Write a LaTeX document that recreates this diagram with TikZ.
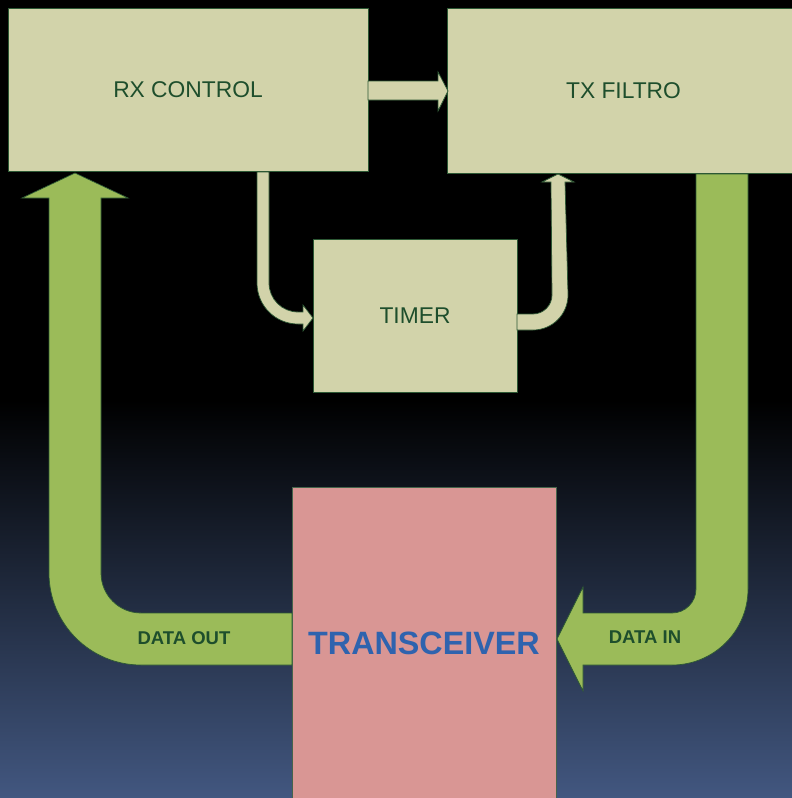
\documentclass[tikz,border=0pt]{standalone}
\usepackage{fontspec}
\setmainfont{Liberation Sans}
\definecolor{bgblue}{RGB}{66,87,128}
\definecolor{boxfill}{RGB}{210,211,170}
\definecolor{edgegreen}{RGB}{44,88,52}
\definecolor{txtgreen}{RGB}{30,78,44}
\definecolor{biggreen}{RGB}{155,187,89}
\definecolor{pinkfill}{RGB}{217,150,148}
\definecolor{txtblue}{RGB}{47,99,174}
\tikzset{
  blockbox/.style={draw=edgegreen, line width=0.8pt, fill=boxfill, rectangle, inner sep=0pt,
    text=txtgreen, font=\fontsize{22.8}{26}\selectfont},
  thinarrow/.style={draw=edgegreen, line width=0.7pt, fill=boxfill},
  bigarrow/.style={draw=edgegreen, line width=0.7pt, fill=biggreen},
  datalabel/.style={text=txtgreen, font=\bfseries\fontsize{18.5}{21}\selectfont, inner sep=0pt}
}
\begin{document}
\begin{tikzpicture}[x=1pt,y=-1pt]
\useasboundingbox (0,0) rectangle (792,798);
% background
\fill[black] (0,0) rectangle (792,401);
\shade[top color=black, bottom color=bgblue] (0,400) rectangle (792,798);
% boxes
\node[blockbox, minimum width=360, minimum height=163] (rx) at (188,89.5) {RX CONTROL};
\node[blockbox, minimum width=353, minimum height=165] (tx) at (623.5,90.5) {TX FILTRO};
\node[blockbox, minimum width=204, minimum height=153] (timer) at (415,315.5) {TIMER};
\node[draw=edgegreen!70!gray, line width=0.6pt, fill=pinkfill, rectangle, inner sep=0pt,
  minimum width=264, minimum height=313, text=txtblue,
  font=\bfseries\fontsize{32.3}{36}\selectfont] (trx) at (424,643.5) {TRANSCEIVER};
% RX -> TX arrow
\draw[thinarrow] (368,81) -- (438,81) -- (438,72) -- (448,91) -- (438,111) -- (438,100) -- (368,100) -- cycle;
% RX -> TIMER arrow
\draw[thinarrow] (257,172) -- (257,283) arc[start angle=180, end angle=90, radius=41]
  -- (303,324) -- (303,331) -- (313,318) -- (303,305) -- (303,312) -- (298,312)
  arc[start angle=90, end angle=180, radius=29] -- (269,172) -- cycle;
% TIMER -> TX arrow
\draw[thinarrow] (517,314) -- (533,314) arc[start angle=90, end angle=0, radius=19]
  -- (551,182) -- (542,182) -- (558,174) -- (574,182) -- (565,182) -- (568,295)
  arc[start angle=0, end angle=90, radius=35] -- (517,330) -- cycle;
% DATA OUT arrow
\draw[bigarrow] (292,613) -- (141,613) arc[start angle=90, end angle=180, radius=40]
  -- (101,198) -- (128,198) -- (75,173) -- (22,198) -- (49,198) -- (49,573)
  arc[start angle=180, end angle=90, radius=92] -- (292,665) -- cycle;
% DATA IN arrow
\draw[bigarrow] (696,174) -- (696,589) arc[start angle=0, end angle=90, radius=24]
  -- (583,613) -- (583,587) -- (557,639) -- (583,691) -- (583,665) -- (672,665)
  arc[start angle=90, end angle=0, radius=76] -- (748,174) -- cycle;
% labels
\node[datalabel] (dout) at (184,638) {DATA OUT};
\node[datalabel] (din) at (645,637) {DATA IN};
\end{tikzpicture}
\end{document}
